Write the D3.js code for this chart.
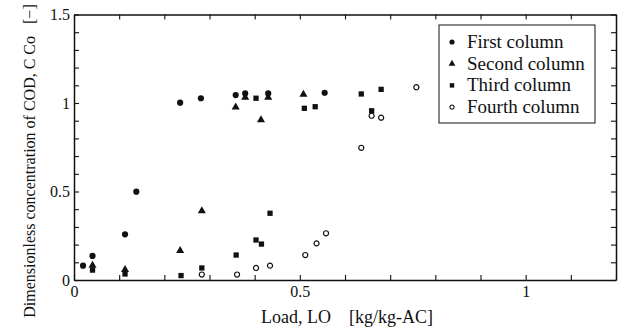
<!DOCTYPE html>
<html>
<head>
<meta charset="utf-8">
<script src="https://cdn.jsdelivr.net/npm/d3@7/dist/d3.min.js"></script>
<style>
  body { margin: 0; background: #fff; }
</style>
</head>
<body>
<div id="chart"></div>
<script>
// values
const seriesNames = ["First column", "Second column", "Third column", "Fourth column"];

const firstLoad = [0.020, 0.041, 0.113, 0.138, 0.235, 0.281, 0.358, 0.379, 0.430, 0.555];
const firstConc = [0.081, 0.136, 0.258, 0.499, 1.002, 1.027, 1.045, 1.054, 1.054, 1.058];

const secondLoad = [0.041, 0.113, 0.235, 0.283, 0.358, 0.379, 0.414, 0.430, 0.508];
const secondConc = [0.082, 0.059, 0.166, 0.390, 0.976, 1.031, 0.904, 1.031, 1.049];

const thirdLoad = [0.041, 0.113, 0.237, 0.283, 0.359, 0.403, 0.415, 0.434, 0.403, 0.510, 0.534, 0.636, 0.659, 0.680];
const thirdConc = [0.056, 0.034, 0.025, 0.068, 0.141, 0.226, 0.203, 0.377, 1.027, 0.970, 0.979, 1.051, 0.956, 1.077];

const fourthLoad = [0.283, 0.361, 0.403, 0.434, 0.512, 0.537, 0.558, 0.636, 0.659, 0.680, 0.758];
const fourthConc = [0.031, 0.031, 0.068, 0.081, 0.141, 0.207, 0.264, 0.747, 0.928, 0.917, 1.089];

const xTickLabels = ["0", "0.5", "1"];
const yTickLabels = ["0", "0.5", "1", "1.5"];

// serif faces don't resolve here, Liberation Sans is the closest narrow face
const font = '"Liberation Serif", "Liberation Sans", Arial, sans-serif';

const svgWidth = 620;
const svgHeight = 329;
const margin = { top: 14.5, right: 4, bottom: 49, left: 74 };

const svg = d3.select("#chart")
    .append("svg")
    .attr("width", svgWidth)
    .attr("height", svgHeight);

const x = d3.scaleLinear()
    .domain([0, 1.2])
    .range([margin.left, svgWidth - margin.right]);

const y = d3.scaleLinear()
    .domain([0, 1.5])
    .range([svgHeight - margin.bottom, margin.top]);

// tick every 0.1, only some get a label
const xTicks = d3.range(0, 13).map(i => i / 10);
const yTicks = d3.range(0, 16).map(i => i / 10);
const xFmt = v => {
    const idx = xTickLabels.indexOf(String(+v.toFixed(1)));
    return idx >= 0 ? xTickLabels[idx] : "";
};
const yFmt = v => {
    const idx = yTickLabels.indexOf(String(+v.toFixed(1)));
    return idx >= 0 ? yTickLabels[idx] : "";
};

const axisStyle = g => {
    g.attr("font-family", font);
    g.select(".domain").attr("stroke", "#111").attr("stroke-width", 1.5);
    g.selectAll(".tick line").attr("stroke", "#111").attr("stroke-width", 1.1);
    g.selectAll(".tick text")
        .attr("font-family", font)
        .attr("font-size", 16)
        .attr("fill", "#111");
};

svg.append("g")
    .attr("transform", `translate(0,${y(0)})`)
    .call(d3.axisBottom(x).tickValues(xTicks).tickFormat(xFmt).tickSize(-5).tickSizeOuter(0).tickPadding(6))
    .call(axisStyle);

svg.append("g")
    .attr("transform", `translate(${x(0)},0)`)
    .call(d3.axisLeft(y).tickValues(yTicks).tickFormat(yFmt).tickSize(-5).tickSizeOuter(0).tickPadding(4))
    .call(axisStyle);

svg.append("g")
    .attr("transform", `translate(0,${y(1.5)})`)
    .call(d3.axisTop(x).tickValues(xTicks).tickFormat("").tickSize(-5).tickSizeOuter(0))
    .call(axisStyle);

svg.append("g")
    .attr("transform", `translate(${x(1.2)},0)`)
    .call(d3.axisRight(y).tickValues(yTicks).tickFormat("").tickSize(-5).tickSizeOuter(0))
    .call(axisStyle);

// markers
const series = [
    { load: firstLoad, conc: firstConc, shape: d3.symbolCircle, size: 30, fill: "#111" },
    { load: secondLoad, conc: secondConc, shape: d3.symbolTriangle, size: 28, fill: "#111" },
    { load: thirdLoad, conc: thirdConc, shape: d3.symbolSquare, size: 28, fill: "#111" },
    { load: fourthLoad, conc: fourthConc, shape: d3.symbolCircle, size: 20, fill: "none" }
];

series.forEach(s => {
    svg.append("g")
        .selectAll("path")
        .data(d3.zip(s.load, s.conc))
        .enter()
        .append("path")
        .attr("d", d3.symbol().type(s.shape).size(s.size))
        .attr("transform", d => `translate(${x(d[0])},${y(d[1])})`)
        .attr("fill", s.fill)
        .attr("stroke", "#111")
        .attr("stroke-width", s.fill === "none" ? 1.2 : 0);
});

// legend
const legend = svg.append("g").attr("transform", "translate(439,25)");
legend.append("rect")
    .attr("width", 156)
    .attr("height", 98)
    .attr("fill", "#fff")
    .attr("stroke", "#111")
    .attr("stroke-width", 1);

seriesNames.forEach((name, i) => {
    const s = series[i];
    const cy = 17 + i * 21.7;
    legend.append("path")
        .attr("d", d3.symbol().type(s.shape).size(s.size * 0.7))
        .attr("transform", `translate(13,${cy})`)
        .attr("fill", s.fill)
        .attr("stroke", "#111")
        .attr("stroke-width", s.fill === "none" ? 1.1 : 0);
    legend.append("text")
        .attr("x", 28)
        .attr("y", cy + 6)
        .attr("font-family", font)
        .attr("font-size", 19)
        .attr("fill", "#111")
        .text(name);
});

// axis titles
svg.append("text")
    .attr("x", 347)
    .attr("y", 323)
    .attr("text-anchor", "middle")
    .attr("font-family", font)
    .attr("font-size", 18)
    .attr("fill", "#111")
    .text("Load, LO\u2003[kg/kg-AC]");

svg.append("text")
    .attr("transform", "translate(35,161) rotate(-90)")
    .attr("text-anchor", "middle")
    .attr("font-family", font)
    .attr("font-size", 16)
    .attr("fill", "#111")
    .text("Dimensionless concentration of COD, C Co\u2002 [\u2212]");
</script>
</body>
</html>
